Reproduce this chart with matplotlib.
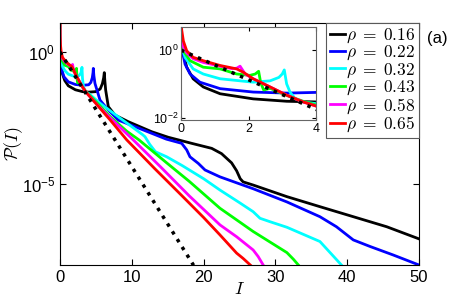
import numpy as np
import matplotlib
matplotlib.use('Agg')
import matplotlib.pyplot as plt
from matplotlib.ticker import FixedLocator, FixedFormatter, NullLocator

plt.rcParams['font.family'] = ['Liberation Sans', 'DejaVu Sans']
plt.rcParams['mathtext.fontset'] = 'cm'

### curves: I values and log10 P(I)
rho_labels = ['0.16', '0.22', '0.32', '0.43', '0.58', '0.65']
colors = ['k', (0, 0, 1), (0, 1, 1), (0, 1, 0), (1, 0, 1), (1, 0, 0)]

I_016 = [0, 0.02, 0.17, 0.36, 0.66, 1.16, 2.14, 3.13, 4.0, 5.0, 5.6, 5.9, 6.08, 6.17, 6.25, 6.36, 6.73,
         7.66, 9.51, 12.77, 15.08, 18.34, 21.13, 22.5, 23.9, 24.6, 25.1, 25.5, 26.9, 31.6, 36.2, 40.85, 45.5, 50]
P_016 = [0.2, 0.08, -0.5, -0.84, -1.08, -1.28, -1.43, -1.5, -1.52, -1.5, -1.4, -1.2, -0.98, -0.78, -1.1, -1.44, -2.07,
         -2.39, -2.64, -3.02, -3.23, -3.46, -3.65, -3.85, -4.2, -4.5, -4.8, -4.92, -5.04, -5.48, -5.86, -6.24, -6.62, -7.08]

I_022 = [0, 0.02, 0.12, 0.27, 0.56, 1.16, 2.14, 3.13, 4.0, 4.3, 4.5, 4.6, 4.64, 4.72, 4.87, 5.57, 6.73, 8.12,
         10.45, 12.77, 14.8, 16.95, 17.65, 18.1, 19.26, 20.2, 22.28, 26.9, 31.6, 36.2, 38.5, 40.85, 43.2, 46.4, 50]
P_022 = [0.2, 0.08, -0.41, -0.70, -0.94, -1.13, -1.23, -1.26, -1.24, -1.15, -0.97, -0.78, -0.62, -0.9, -1.19, -1.82, -2.2, -2.58,
         -2.83, -3.08, -3.3, -3.46, -3.71, -3.97, -4.22, -4.47, -4.73, -5.18, -5.68, -6.24, -6.62, -7.12, -7.37, -7.69, -8.07]

I_032 = [0, 0.02, 0.12, 0.36, 0.66, 1.16, 1.65, 2.14, 2.64, 2.9, 3.0, 3.06, 3.13, 3.23, 3.38, 3.62, 4.0, 5.57,
         8.0, 10.0, 11.5, 11.84, 12.5, 13.3, 14.86, 17.0, 20.0, 22.28, 25.07, 26.9, 27.86, 29.25, 31.6, 36.2, 39.2]
P_032 = [0.2, 0.12, -0.21, -0.55, -0.70, -0.84, -0.89, -0.94, -0.9, -0.8, -0.7, -0.58, -0.99, -1.23, -1.42, -1.52, -1.57, -1.94,
         -2.43, -2.83, -3.13, -3.21, -3.5, -3.78, -3.97, -4.3, -4.8, -5.23, -5.72, -6.05, -6.3, -6.43, -6.64, -7.18, -8.07]

I_043 = [0, 0.02, 0.07, 0.27, 0.66, 1.16, 1.65, 2.04, 2.2, 2.3, 2.36, 2.45, 2.64, 3.13, 3.62, 4.0, 5.33, 7.0,
         9.3, 11.0, 14.86, 18.0, 22.28, 25.07, 26.9, 29.25, 31.6, 32.5, 33.2]
P_043 = [1.5, 0.2, -0.02, -0.31, -0.50, -0.55, -0.70, -0.74, -0.7, -0.62, -0.95, -1.17, -1.12, -1.33, -1.5, -1.61, -1.97, -2.45,
         -3.0, -3.33, -4.2, -4.9, -5.92, -6.45, -6.8, -7.2, -7.6, -7.85, -8.07]

I_058 = [0, 0.02, 0.07, 0.17, 0.36, 0.66, 1.16, 1.5, 1.65, 1.75, 1.9, 2.14, 2.64, 3.13, 3.62, 4.0, 5.33, 7.0,
         10.2, 14.0, 18.0, 22.28, 24.6, 26.9, 27.6, 28.3]
P_058 = [1.0, 0.25, 0.1, -0.08, -0.25, -0.36, -0.47, -0.54, -0.53, -0.47, -0.7, -0.84, -1.08, -1.32, -1.52, -1.64, -2.04, -2.5,
         -3.33, -4.35, -5.45, -6.55, -7.0, -7.5, -7.75, -8.07]

I_065 = [0, 0.02, 0.07, 0.17, 0.36, 0.66, 1.16, 1.65, 1.85, 2.14, 2.64, 3.13, 3.62, 4.0, 5.0, 7.0, 9.3, 13.2,
         17.0, 20.0, 22.28, 24.6, 25.5, 26.5]
P_065 = [1.3, 0.6, 0.27, -0.02, -0.21, -0.31, -0.45, -0.55, -0.65, -0.84, -1.08, -1.32, -1.52, -1.64, -1.95, -2.58, -3.33, -4.42,
         -5.45, -6.27, -6.93, -7.62, -7.82, -8.07]

### exponential reference (dotted), straight on log axis
I_ref = [0, 18.6]
P_ref = [0.0, -8.08]

curves = [(I_016, P_016), (I_022, P_022), (I_032, P_032), (I_043, P_043), (I_058, P_058), (I_065, P_065)]

fig = plt.figure(figsize=(4.63, 3.0), dpi=100)
ax = fig.add_axes([60/463, 35/300, 359/463, 242/300])
ins = fig.add_axes([181/463, 180/300, 135/463, 93/300])

for a in (ax, ins):
    for (xs, ys), c, lab in zip(curves, colors, rho_labels):
        a.plot(xs, 10**np.array(ys), color=c, lw=2, label=r'$\rho\;=\;%s$' % lab)
    a.plot(I_ref, 10**np.array(P_ref), color='k', ls=':', lw=2.5)
    a.set_yscale('log')
    a.tick_params(direction='in', top=True, right=True, length=4, width=0.8)
    a.yaxis.set_minor_locator(NullLocator())

ax.set_xlim(0, 50)
ax.set_ylim(10**-8.07, 10**1.1)
ax.set_xticks([0, 10, 20, 30, 40, 50])
ax.yaxis.set_major_locator(FixedLocator([1e-5, 1e0]))
ax.yaxis.set_major_formatter(FixedFormatter([r'$\mathregular{10^{-5}}$', r'$\mathregular{10^{0}}$']))
ax.tick_params(labelsize=12)
ax.set_xlabel(r'$I$', fontsize=13)
ax.set_ylabel(r'$\mathcal{P}(I)$', fontsize=13)
ax.xaxis.set_label_coords(0.5, (265 - 289) / 242)
ax.yaxis.set_label_coords((14 - 60) / 359, 0.5)
ax.xaxis.label.set_va('center')
ax.yaxis.label.set_va('center')

ins.set_xlim(0, 4)
ins.set_ylim(10**-2.05, 10**0.68)
ins.set_xticks([0, 2, 4])
ins.yaxis.set_major_locator(FixedLocator([1e-2, 1e0]))
ins.yaxis.set_major_formatter(FixedFormatter([r'$\mathregular{10^{-2}}$', r'$\mathregular{10^{0}}$']))
ins.tick_params(labelsize=9, length=3, pad=2)
for s in ins.spines.values():
    s.set_edgecolor('0.4')

leg = ax.legend(loc='upper right', bbox_to_anchor=(1, 1), borderaxespad=0, fontsize=12.5,
                handlelength=0.85, handletextpad=0.1, labelspacing=-0.06, borderpad=0.2,
                fancybox=False, framealpha=1, edgecolor='0.35')
leg.get_frame().set_linewidth(0.8)

fig.text(427/463, 1 - 38/300, '(a)', fontsize=12, va='center', ha='left')

fig.savefig('out.png', dpi=100)
